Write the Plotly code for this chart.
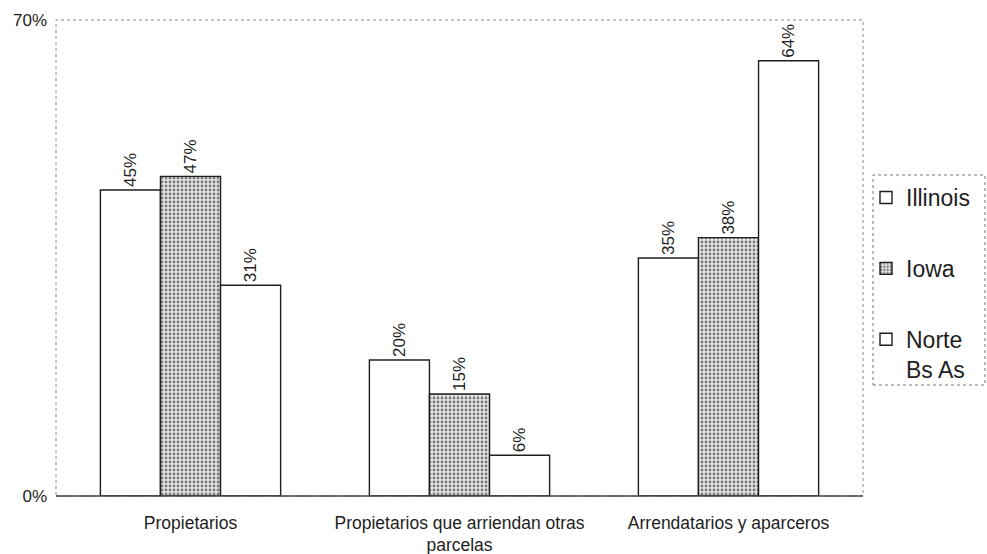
import plotly.graph_objects as go

categories = ["Propietarios", "Propietarios que arriendan otras<br>parcelas", "Arrendatarios y aparceros"]
illinois = [45, 20, 35]
iowa = [47, 15, 38]
norte_bs_as = [31, 6, 64]
y_tick_values = [0, 70]
y_tick_labels = ["0%", "70%"]

FONT = "Liberation Sans, Arial, sans-serif"
INK = "#1e1e1e"

# plot area in pixels
W, H = 987, 554
L, R, T, B = 56, 124, 20, 58
PW, PH = W - L - R, H - T - B


def px_x(x):
    return (x - L) / PW


def px_y(y):
    return (H - B - y) / PH


def bar(name, values, pattern, group):
    return go.Bar(
        name=name,
        x=categories,
        y=values,
        text=[f"{v}%" for v in values],
        textposition="outside",
        textangle=-90,
        textfont=dict(family=FONT, size=17, color=INK),
        cliponaxis=False,
        legendgroup=group,
        marker=dict(
            color="white",
            line=dict(color=INK, width=1.4),
            pattern=pattern,
        ),
    )


fig = go.Figure()
fig.add_trace(bar("Illinois", illinois, None, "a"))
fig.add_trace(bar("Iowa", iowa,
                  dict(shape=".", fgcolor="#7a7a7a", bgcolor="#e6e6e6",
                       size=4, solidity=0.4, fillmode="replace"), "b"))
fig.add_trace(bar("Norte<br>Bs As", norte_bs_as, None, "c"))

shapes = [
    # dotted frame of the plot area
    dict(type="rect", xref="paper", yref="paper", x0=0, x1=1, y0=0, y1=1,
         line=dict(color="#8a8a8a", width=1, dash="dot"), layer="below"),
    # baseline
    dict(type="line", xref="paper", yref="paper", x0=0, x1=1, y0=0, y1=0,
         line=dict(color="#444", width=1.3)),
    # dotted legend frame
    dict(type="rect", xref="paper", yref="paper",
         x0=px_x(873), x1=px_x(985), y0=px_y(385), y1=px_y(175),
         line=dict(color="#777", width=1, dash="dot")),
]

fig.update_layout(
    width=W, height=H,
    margin=dict(l=L, r=R, t=T, b=B, autoexpand=False),
    paper_bgcolor="white", plot_bgcolor="white",
    barmode="group", bargap=0.33, bargroupgap=0,
    font=dict(family=FONT, color=INK),
    showlegend=True,
    shapes=shapes,
    legend=dict(
        x=px_x(866), y=px_y(176), xanchor="left", yanchor="top",
        font=dict(family=FONT, size=23, color=INK),
        bgcolor="rgba(0,0,0,0)", borderwidth=0,
        tracegroupgap=38, valign="top",
        itemwidth=30,
    ),
    xaxis=dict(
        showgrid=False, showline=False, ticks="", automargin=False,
        ticklabelstandoff=14,
        tickfont=dict(family=FONT, size=17.5, color=INK),
    ),
    yaxis=dict(
        range=[0, 70], tickvals=y_tick_values, ticktext=y_tick_labels,
        showgrid=False, showline=False, ticks="", zeroline=False,
        automargin=False, ticklabelstandoff=8,
        tickfont=dict(family=FONT, size=17, color=INK),
    ),
)

fig.write_html("out.html")
